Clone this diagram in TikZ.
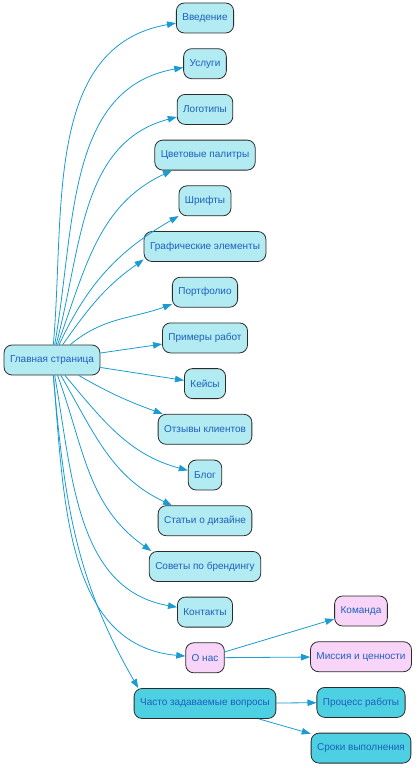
\documentclass[tikz,border=0pt]{standalone}
\usepackage{fontspec}
\setmainfont{Liberation Sans}
\usetikzlibrary{arrows.meta,positioning}
\definecolor{pagecyan}{HTML}{B2EBF2}
\definecolor{aboutpink}{HTML}{F8D4F8}
\definecolor{faqcyan}{HTML}{4DD0E1}
\definecolor{linkblue}{HTML}{1A9BD2}
\definecolor{labelblue}{HTML}{1E5FC0}
\definecolor{bordergray}{HTML}{2B2B2B}

\begin{document}
\begin{tikzpicture}[->,>={Triangle[length=9pt,width=6.5pt]},x=1pt,y=-1pt,node distance=45.7pt,
                    line width=0.8pt]
  \tikzstyle{page}=[rectangle,rounded corners=8pt,draw=bordergray,fill=pagecyan,text=labelblue,font=\fontsize{10}{12}\selectfont,minimum height=30pt,inner xsep=6pt]
  \tikzstyle{about}=[page,fill=aboutpink]
  \tikzstyle{faq}=[page,fill=faqcyan]

  \useasboundingbox (0,0) rectangle (418,768);

  \node[page] (home) at (52,360) {Главная страница};
  \node[page]  (intro) at (205,18)        {Введение};
  \node[page]  (services)  [below of=intro]     {Услуги};
  \node[page]  (logos)     [below of=services]  {Логотипы};
  \node[page]  (palettes)  [below of=logos]     {Цветовые палитры};
  \node[page]  (fonts)     [below of=palettes]  {Шрифты};
  \node[page]  (graphics)  [below of=fonts]     {Графические элементы};
  \node[page]  (portfolio) [below of=graphics]  {Портфолио};
  \node[page]  (examples)  [below of=portfolio] {Примеры работ};
  \node[page]  (cases)     [below of=examples]  {Кейсы};
  \node[page]  (reviews)   [below of=cases]     {Отзывы клиентов};
  \node[page]  (blog)      [below of=reviews]   {Блог};
  \node[page]  (articles)  [below of=blog]      {Статьи о дизайне};
  \node[page]  (tips)      [below of=articles]  {Советы по брендингу};
  \node[page]  (contacts)  [below of=tips]      {Контакты};
  \node[about] (about)     [below of=contacts]  {О нас};
  \node[faq]   (faq)       [below of=about]     {Часто задаваемые вопросы};
  \node[about] (team)      at (361,611)         {Команда};
  \node[about] (mission)   [below of=team]      {Миссия и ценности};
  \node[faq]   (process)   [below of=mission]   {Процесс работы};
  \node[faq]   (terms)     [below of=process]   {Сроки выполнения};

  \path[draw=linkblue,fill=linkblue]
        (home)  edge [out=85,in=190]   (intro)
                edge [out=80,in=190]   (services)
                edge [out=75,in=195]   (logos)
                edge [out=70,in=205]   (palettes)
                edge [out=65,in=210]   (fonts)
                edge [out=55,in=215]   (graphics.192)
                edge [out=40,in=200]   (portfolio)
                edge                   (examples)
                edge                   (cases)
                edge [out=-30,in=160]  (reviews)
                edge [out=-50,in=165]  (blog)
                edge [out=-60,in=155]  (articles)
                edge [out=-70,in=145]  (tips.164)
                edge [out=-80,in=170]  (contacts)
                edge [out=-85,in=175]  (about)
                edge [out=-85,in=120]  (faq.167)
        (about) edge                   (team)
                edge                   (mission)
        (faq)   edge                   (process)
                edge                   (terms);
\end{tikzpicture}
\end{document}
